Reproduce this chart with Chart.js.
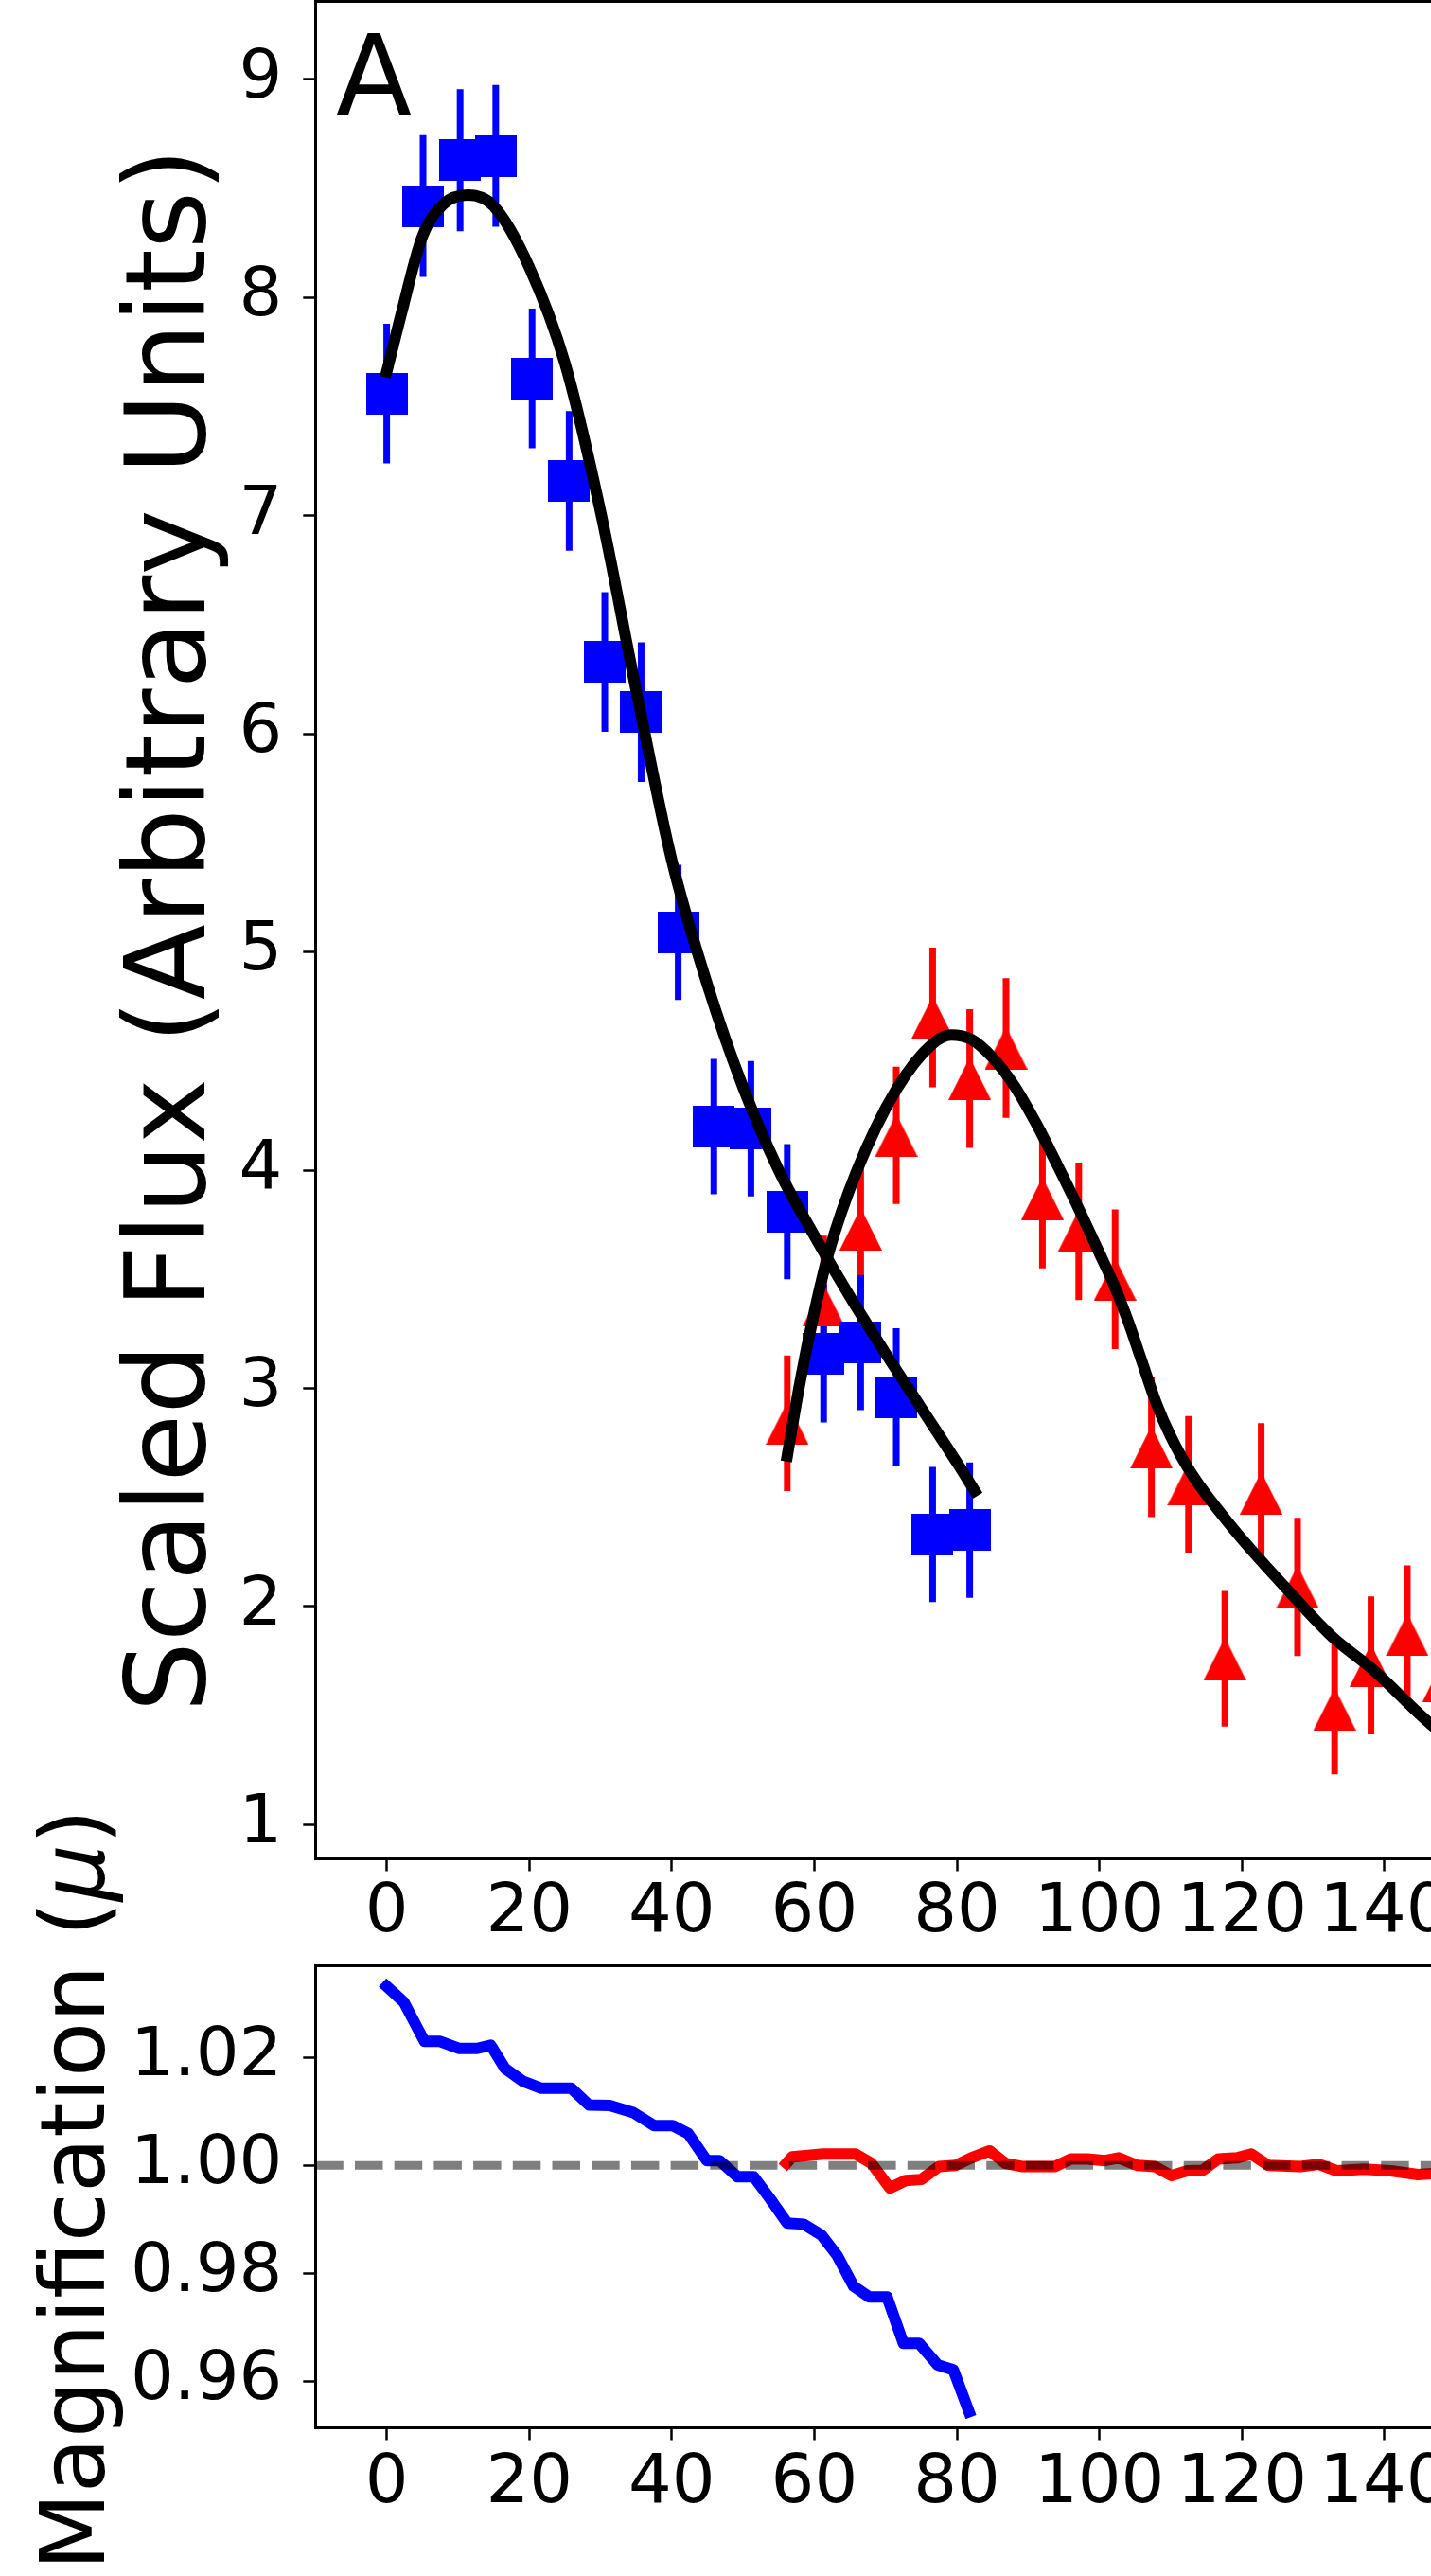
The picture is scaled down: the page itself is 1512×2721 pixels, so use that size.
<!DOCTYPE html>
<html>
<head>
<meta charset="utf-8">
<script src="https://cdn.jsdelivr.net/npm/chart.js@4.4.1/dist/chart.umd.min.js"></script>
<style>
  html, body { margin: 0; padding: 0; background: #fff; }
  #wrap { position: relative; width: 1512px; height: 2721px; overflow: hidden; background: #fff; }
  #wrap canvas { position: absolute; left: 0; }
  #fluxCanvas { top: 0; }
  #magCanvas { top: 1900px; }
</style>
</head>
<body>
<div id="wrap">
  <canvas id="fluxCanvas" width="2000" height="2080" style="width:2000px;height:2080px"></canvas>
  <canvas id="magCanvas" width="2000" height="821" style="width:2000px;height:821px"></canvas>
</div>
<script>
// ---------------- data ----------------
const xMin = -10, xMax = 210;
const xTicks = [0, 20, 40, 60, 80, 100, 120, 140, 160, 180, 200];
const fluxMin = 0.843, fluxMax = 9.358;
const fluxTicks = [1, 2, 3, 4, 5, 6, 7, 8, 9];
const magMin = 0.95133, magMax = 1.03696;
const magTicks = [0.96, 0.98, 1.00, 1.02];

// blue squares (first image)
const blueX    = [0, 5.1, 10.3, 15.3, 20.4, 25.6, 30.6, 35.7, 40.9, 45.9, 51.1, 56.2, 61.3, 66.5, 71.5, 76.6, 81.8];
const blueFlux = [7.56, 8.42, 8.63, 8.65, 7.63, 7.16, 6.33, 6.10, 5.09, 4.20, 4.19, 3.81, 3.16, 3.21, 2.96, 2.33, 2.35];
const blueErr  = [0.32, 0.325, 0.325, 0.325, 0.32, 0.32, 0.32, 0.32, 0.31, 0.31, 0.31, 0.31, 0.316, 0.31, 0.316, 0.31, 0.31];

// red triangles (second image)
const redX    = [56.2, 61.3, 66.5, 71.5, 76.6, 81.8, 86.9, 92.0, 97.1, 102.2, 107.3, 112.5, 117.6, 122.7, 127.8, 133.0, 138.1, 143.2, 148.3];
const redFlux = [2.84, 3.38, 3.73, 4.16, 4.70, 4.42, 4.56, 3.87, 3.72, 3.50, 2.73, 2.56, 1.76, 2.52, 2.09, 1.53, 1.73, 1.87, 1.66];
const redErr  = [0.311, 0.32, 0.32, 0.315, 0.32, 0.318, 0.32, 0.32, 0.315, 0.32, 0.32, 0.313, 0.311, 0.32, 0.317, 0.30, 0.316, 0.318, 0.32];

// black model curves
const fitBlueX = [0, 2, 5, 8, 11.4, 15, 20, 25, 30, 35, 40, 45, 50, 55, 60, 65, 70, 75, 80, 82.5];
const fitBlueY = [7.66, 7.92, 8.28, 8.43, 8.47, 8.42, 8.14, 7.70, 7.02, 6.20, 5.42, 4.85, 4.38, 4.00, 3.70, 3.42, 3.16, 2.91, 2.66, 2.53];
const fitRedX = [56.2, 58, 60, 62, 66, 71.5, 76.6, 79.2, 82, 84.9, 88, 91.2, 94, 97, 100, 102.1, 104, 106, 108, 110, 112.9, 118.7, 126.3, 132.7, 138.4, 146.5, 152];
const fitRedY = [2.69, 3.03, 3.35, 3.62, 4.00, 4.37, 4.58, 4.62, 4.60, 4.52, 4.39, 4.21, 4.03, 3.83, 3.62, 3.47, 3.31, 3.12, 2.93, 2.78, 2.61, 2.36, 2.08, 1.86, 1.71, 1.46, 1.33];

// magnification curves
const magBlueX = [0, 2.4, 5.3, 7.5, 10.1, 12.7, 14.6, 16.6, 19.1, 21.7, 25.9, 28.4, 31.3, 34.6, 37.5, 40.1, 42.3, 44.9, 46.7, 49.2, 51.5, 53.7, 56.2, 58.5, 61.0, 63.2, 65.5, 67.7, 70.2, 72.5, 74.7, 77.3, 79.5, 81.7];
const magBlueY = [1.0332, 1.0303, 1.0230, 1.0230, 1.0217, 1.0217, 1.0223, 1.0180, 1.0156, 1.0143, 1.0143, 1.0112, 1.0111, 1.0098, 1.0074, 1.0074, 1.0059, 1.0009, 1.0009, 0.9979, 0.9979, 0.9940, 0.9893, 0.9891, 0.9871, 0.9833, 0.9776, 0.9756, 0.9756, 0.9670, 0.9670, 0.9630, 0.9621, 0.9543];
const magRedX = [56.1, 56.9, 61.3, 65.8, 68.0, 70.6, 72.8, 75.0, 77.5, 79.8, 82.0, 84.6, 86.8, 89.1, 93.8, 96.0, 98.3, 100.8, 102.7, 105.3, 107.8, 110.1, 112.3, 114.5, 116.7, 119.3, 121.3, 123.7, 128.2, 130.8, 133.3, 137.1, 140.9, 144.7, 148.0];
const magRedY = [1.0004, 1.0016, 1.0021, 1.0021, 1.0004, 0.9958, 0.9972, 0.9974, 0.9998, 1.0000, 1.0014, 1.0027, 1.0004, 0.9998, 0.9998, 1.0012, 1.0012, 1.0009, 1.0014, 1.0000, 0.9998, 0.9981, 0.9990, 0.9991, 1.0012, 1.0014, 1.0021, 1.0000, 0.9998, 1.0002, 0.9990, 0.9993, 0.9990, 0.9983, 0.9986];
const refLevel = 1.0;

// ---------------- helpers ----------------
const FONT = "'DejaVu Sans', sans-serif";
const TICK_FONT = 72;
Chart.defaults.font.family = FONT;
Chart.defaults.color = '#000';

const pts = (xs, ys) => xs.map((x, i) => ({ x: x, y: ys[i] }));
const errSegments = (xs, ys, es) => {
  const out = [];
  xs.forEach((x, i) => {
    out.push({ x: x, y: ys[i] - es[i] });
    out.push({ x: x, y: ys[i] + es[i] });
    out.push({ x: x, y: null });
  });
  return out;
};
function squareMarker(size, color) {
  const c = document.createElement('canvas');
  c.width = size; c.height = size;
  const g = c.getContext('2d');
  g.fillStyle = color; g.fillRect(0, 0, size, size);
  return c;
}
function triangleMarker(size, color) {
  const c = document.createElement('canvas');
  c.width = size; c.height = size;
  const g = c.getContext('2d');
  g.fillStyle = color;
  g.beginPath(); g.moveTo(size / 2, 0); g.lineTo(size, size); g.lineTo(0, size); g.closePath(); g.fill();
  return c;
}

function xAxis(height, pad) {
  return {
    type: 'linear', position: 'bottom', min: xMin, max: xMax, offset: false,
    grid: { display: true, drawOnChartArea: false, drawTicks: true, tickLength: 13, tickWidth: 2.5, tickColor: '#000', offset: false },
    border: { display: true, color: '#000', width: 3 },
    ticks: { autoSkip: false, maxRotation: 0, minRotation: 0, padding: pad, color: '#000', font: { size: TICK_FONT, lineHeight: 1.2 } },
    afterBuildTicks: s => { s.ticks = xTicks.map(v => ({ value: v })); },
    afterFit: s => { s.height = height; s.paddingLeft = 0; s.paddingRight = 0; }
  };
}
function topBorderAxis() {
  return {
    type: 'linear', position: 'top', min: xMin, max: xMax, offset: false,
    grid: { display: true, drawOnChartArea: false, drawTicks: false, offset: false },
    border: { display: true, color: '#000', width: 3 },
    ticks: { display: false },
    afterFit: s => { s.height = 0; s.paddingLeft = 0; s.paddingRight = 0; }
  };
}
function yAxis(min, max, tickVals, fmt, title) {
  return {
    type: 'linear', position: 'left', min: min, max: max,
    grid: { display: true, drawOnChartArea: false, drawTicks: true, tickLength: 13, tickWidth: 2.5, tickColor: '#000' },
    border: { display: true, color: '#000', width: 3 },
    ticks: { padding: 22, color: '#000', font: { size: TICK_FONT, lineHeight: 1.2 }, callback: fmt },
    title: title,
    afterBuildTicks: s => { s.ticks = tickVals.map(v => ({ value: v })); },
    afterFit: s => { s.width = 333.3; s.paddingTop = 0; s.paddingBottom = 0; }
  };
}

const panelLetter = {
  id: 'panelLetter',
  afterDraw(chart) {
    const ctx = chart.ctx;
    ctx.save();
    ctx.font = "117px " + FONT;
    ctx.fillStyle = '#000';
    ctx.textBaseline = 'alphabetic';
    ctx.textAlign = 'left';
    ctx.fillText('A', 355, 120.5);
    ctx.restore();
  }
};

const magLabel = {
  id: 'magLabel',
  afterDraw(chart) {
    const ctx = chart.ctx;
    const size = 95;
    const parts = [['Magnification (', 'normal'], ['\u03bc', 'italic'], [')', 'normal']];
    ctx.save();
    let total = 0;
    parts.forEach(p => { ctx.font = p[1] + ' ' + size + 'px ' + FONT; total += ctx.measureText(p[0]).width; });
    const endY = 11; // local canvas y of the end of the text
    ctx.translate(110, endY + total);
    ctx.rotate(-Math.PI / 2);
    ctx.fillStyle = '#000';
    ctx.textBaseline = 'alphabetic';
    ctx.textAlign = 'left';
    let x = 0;
    parts.forEach(p => {
      ctx.font = p[1] + ' ' + size + 'px ' + FONT;
      ctx.fillText(p[0], x, 0);
      x += ctx.measureText(p[0]).width;
    });
    ctx.restore();
  }
};

const common = {
  responsive: false, maintainAspectRatio: false, devicePixelRatio: 1,
  animation: false, events: [],
  plugins: { legend: { display: false }, tooltip: { enabled: false } }
};

// ---------------- top panel: scaled flux ----------------
new Chart(document.getElementById('fluxCanvas'), {
  type: 'scatter',
  data: {
    datasets: [
      { label: 'Model (image 1)', data: pts(fitBlueX, fitBlueY), showLine: true, borderColor: '#000', backgroundColor: '#000',
        borderWidth: 12, pointRadius: 0, cubicInterpolationMode: 'monotone', borderCapStyle: 'square', borderJoinStyle: 'round', order: 0 },
      { label: 'Model (image 2)', data: pts(fitRedX, fitRedY), showLine: true, borderColor: '#000', backgroundColor: '#000',
        borderWidth: 12, pointRadius: 0, cubicInterpolationMode: 'monotone', borderCapStyle: 'square', borderJoinStyle: 'round', order: 0 },
      { label: 'Image 1', data: pts(blueX, blueFlux), showLine: false, pointStyle: squareMarker(44, '#0000ff'), pointRadius: 22, order: 1 },
      { label: 'Image 2', data: pts(redX, redFlux), showLine: false, pointStyle: triangleMarker(45, '#ff0000'), pointRadius: 22, order: 1 },
      { label: 'Image 1 errors', data: errSegments(blueX, blueFlux, blueErr), showLine: true, spanGaps: false, borderColor: '#0000ff',
        borderWidth: 7, pointRadius: 0, borderCapStyle: 'butt', order: 2 },
      { label: 'Image 2 errors', data: errSegments(redX, redFlux, redErr), showLine: true, spanGaps: false, borderColor: '#ff0000',
        borderWidth: 7, pointRadius: 0, borderCapStyle: 'butt', order: 2 }
    ]
  },
  options: Object.assign({}, common, {
    layout: { autoPadding: false, padding: { top: 1.5, right: 10, bottom: 0, left: 0 } },
    scales: {
      x: xAxis(116.5, 2),
      x2: topBorderAxis(),
      y: yAxis(fluxMin, fluxMax, fluxTicks, v => String(v), {
        display: true, text: 'Scaled Flux (Arbitrary Units)', color: '#000',
        font: { size: 117, lineHeight: 1 }, padding: { top: 127, bottom: 0 }
      })
    }
  }),
  plugins: [panelLetter]
});

// ---------------- bottom panel: magnification ----------------
new Chart(document.getElementById('magCanvas'), {
  type: 'scatter',
  data: {
    datasets: [
      { label: 'mu = 1', data: [{ x: xMin, y: refLevel }, { x: xMax, y: refLevel }], showLine: true,
        borderColor: 'rgba(0,0,0,0.5)', borderWidth: 9, borderDash: [29.5, 12.2], borderCapStyle: 'butt', pointRadius: 0, order: 0 },
      { label: 'Image 1 magnification', data: pts(magBlueX, magBlueY), showLine: true, borderColor: '#0000ff',
        borderWidth: 12, pointRadius: 0, borderCapStyle: 'square', borderJoinStyle: 'round', order: 1 },
      { label: 'Image 2 magnification', data: pts(magRedX, magRedY), showLine: true, borderColor: '#ff0000',
        borderWidth: 12, pointRadius: 0, borderCapStyle: 'square', borderJoinStyle: 'round', order: 1 }
    ]
  },
  options: Object.assign({}, common, {
    layout: { autoPadding: false, padding: { top: 176.8, right: 10, bottom: 0, left: 0 } },
    scales: {
      x: xAxis(156.5, 4),
      x2: topBorderAxis(),
      y: yAxis(magMin, magMax, magTicks, v => Number(v).toFixed(2), { display: false })
    }
  }),
  plugins: [magLabel]
});
</script>
</body>
</html>
